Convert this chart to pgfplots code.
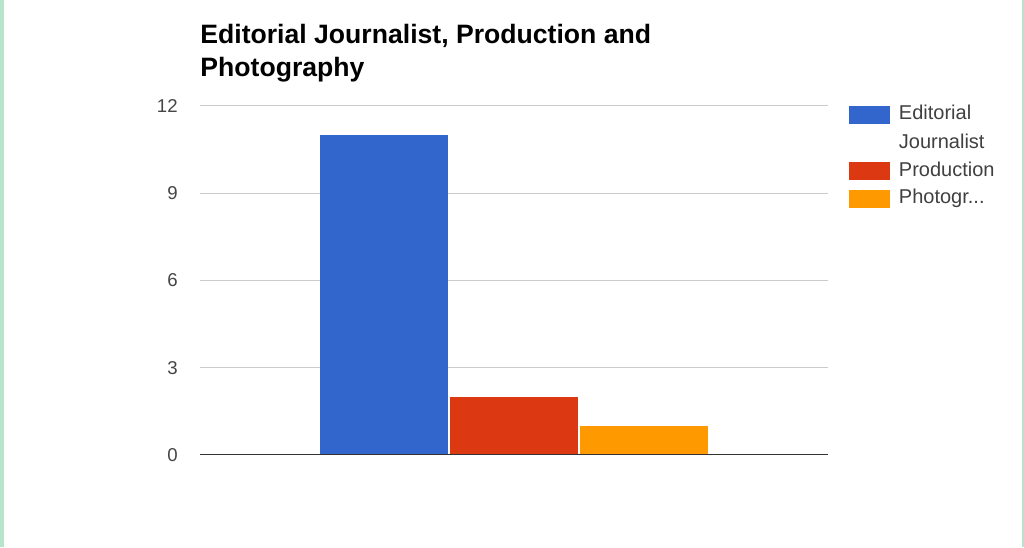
\documentclass[border=0pt]{standalone}
\usepackage{pgfplots}
\pgfplotsset{compat=1.18}
\usepackage{fontspec}
\setmainfont{Liberation Sans}
\definecolor{ejblue}{HTML}{3366CC}
\definecolor{prodred}{HTML}{DC3912}
\definecolor{photoorange}{HTML}{FF9900}
\definecolor{framegreen}{HTML}{B8E4CC}
\begin{document}
\begin{tikzpicture}
	% page: 1024 x 547 px, 1px = 0.5pt
	\useasboundingbox (0,0) rectangle (512pt,273.5pt);
	\fill[white] (0,0) rectangle (512pt,273.5pt);
	\fill[framegreen] (0,0) rectangle (1.8pt,273.5pt);
	\fill[framegreen] (510.8pt,0) rectangle (512pt,273.5pt);
	% title
	\node[anchor=base west, inner sep=0pt, font=\bfseries\fontsize{13.3}{16}\selectfont]
		at (100pt,251.75pt) {Editorial Journalist, Production and};
	\node[anchor=base west, inner sep=0pt, font=\bfseries\fontsize{13.3}{16}\selectfont]
		at (100pt,235.25pt) {Photography};
	\begin{axis}[
	at={(100pt,46pt)}, anchor=south west,
	scale only axis,
	width=314pt, height=174.5pt,
	ybar=1pt,
	bar width=64pt,
	xmin=-1, xmax=1,
	ymin=0, ymax=12,
	xtick=\empty,
	ytick={0,3,6,9,12},
	ymajorgrids,
	grid style={color=black!20, line width=0.5pt},
	axis line style={draw=none},
	major tick length=0pt,
	tick label style={font=\fontsize{9.3}{11}\selectfont, text=black!73},
	yticklabel style={inner sep=0pt, xshift=-11pt},
	/pgf/number format/assume math mode=true,
	legend style={
		at={(1.0334,1)}, anchor=north west,
		draw=none, fill=none, inner sep=0pt, outer sep=0pt,
		font=\fontsize{10}{12}\selectfont, text=black!75,
		row sep=5pt, column sep=4.5pt,
		nodes={inner sep=0pt, text height=7pt, text depth=2pt},
	},
	legend cell align=left,
	legend image code/.code={\fill[#1] (0pt,-4.5pt) rectangle (20.5pt,4.5pt);},
	]
	\addplot[fill=ejblue, draw=none] coordinates {(0,11)};
	\addlegendentry{Editorial}
	\addlegendimage{empty legend}
	\addlegendentry{Journalist}
	\addplot[fill=prodred, draw=none] coordinates {(0,2)};
	\addlegendentry{Production}
	\addplot[fill=photoorange, draw=none] coordinates {(0,1)};
	\addlegendentry{Photogr...}
	% baseline
	\draw[color=black!80, line width=0.6pt] (rel axis cs:0,0) -- (rel axis cs:1,0);
	\end{axis}
\end{tikzpicture}
\end{document}
